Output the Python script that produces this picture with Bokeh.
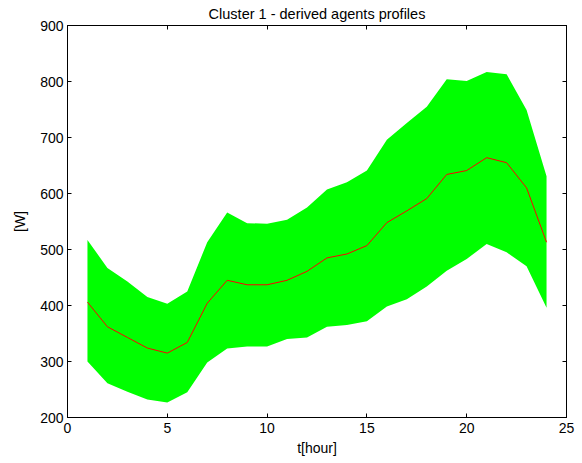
from bokeh.plotting import figure
from bokeh.models import LinearAxis, Range1d, FixedTicker, CustomLabelingPolicy
from bokeh.embed import file_html
from bokeh.resources import INLINE

# Hourly profile of cluster 1 agents: mean with upper / lower envelope
hours = list(range(1, 25))
mean_w = [406, 362, 343, 324, 315, 334, 404, 445, 437, 437, 445, 461,
          485, 492, 507, 548, 569, 591, 634, 641, 664, 655, 610, 513]
upper_w = [517, 467, 443, 415, 403, 425, 513, 566, 547, 546, 553, 575,
           607, 620, 641, 696, 726, 755, 804, 801, 817, 813, 749, 631]
lower_w = [300, 261, 246, 232, 227, 245, 298, 323, 327, 327, 340, 343,
           362, 365, 372, 398, 411, 434, 462, 483, 510, 495, 470, 396]

x_ticks = [0, 5, 10, 15, 20, 25]
y_ticks = [200, 300, 400, 500, 600, 700, 800, 900]

FONT = "Liberation Sans"

p = figure(width=582, height=463, output_backend="svg", toolbar_location=None,
           x_range=Range1d(0, 25), y_range=Range1d(200, 900),
           title="Cluster 1 - derived agents profiles",
           min_border_left=67, min_border_right=16,
           min_border_top=25, min_border_bottom=46)

p.title.align = "center"
p.title.text_font = FONT
p.title.text_font_size = "14.5px"
p.title.text_font_style = "normal"
p.title.text_color = "#000000"
p.title.standoff = 7

# envelope band and mean curve
p.varea(x=hours, y1=lower_w, y2=upper_w, fill_color="#00FF00")
p.line(hours, mean_w, line_color="#FF0000", line_width=1)

p.xgrid.visible = False
p.ygrid.visible = False
p.outline_line_color = "#000000"
p.outline_line_width = 1

# labeling policy that keeps no labels (for the mirrored box axes)
no_labels = CustomLabelingPolicy(code="for (const i of indices) indices.unset(i); return indices;")


def style_axis(ax, ticks, show_labels=True):
    ax.ticker = FixedTicker(ticks=ticks)
    ax.axis_line_color = "#000000"
    ax.axis_line_width = 1
    ax.major_tick_in = 4
    ax.major_tick_out = 0
    ax.minor_tick_in = 0
    ax.minor_tick_out = 0
    ax.major_tick_line_color = "#000000"
    ax.major_label_text_font = FONT
    ax.major_label_text_font_size = "14px"
    ax.major_label_text_color = "#000000"
    ax.axis_label_text_font = FONT
    ax.axis_label_text_font_size = "14px"
    ax.axis_label_text_font_style = "normal"
    ax.axis_label_text_color = "#000000"
    if not show_labels:
        ax.major_label_policy = no_labels
        ax.major_label_text_font_size = "0px"
        ax.major_label_standoff = 0


style_axis(p.xaxis[0], x_ticks)
style_axis(p.yaxis[0], y_ticks)
p.xaxis[0].axis_label = "t[hour]"
p.yaxis[0].axis_label = "[W]"
p.xaxis[0].major_label_standoff = 5
p.yaxis[0].major_label_standoff = 4
p.xaxis[0].axis_label_standoff = 4
p.yaxis[0].axis_label_standoff = 9

top_ax = LinearAxis()
style_axis(top_ax, x_ticks, show_labels=False)
p.add_layout(top_ax, "above")
right_ax = LinearAxis()
style_axis(right_ax, y_ticks, show_labels=False)
p.add_layout(right_ax, "right")

open("out.html", "w").write(file_html(p, INLINE))
